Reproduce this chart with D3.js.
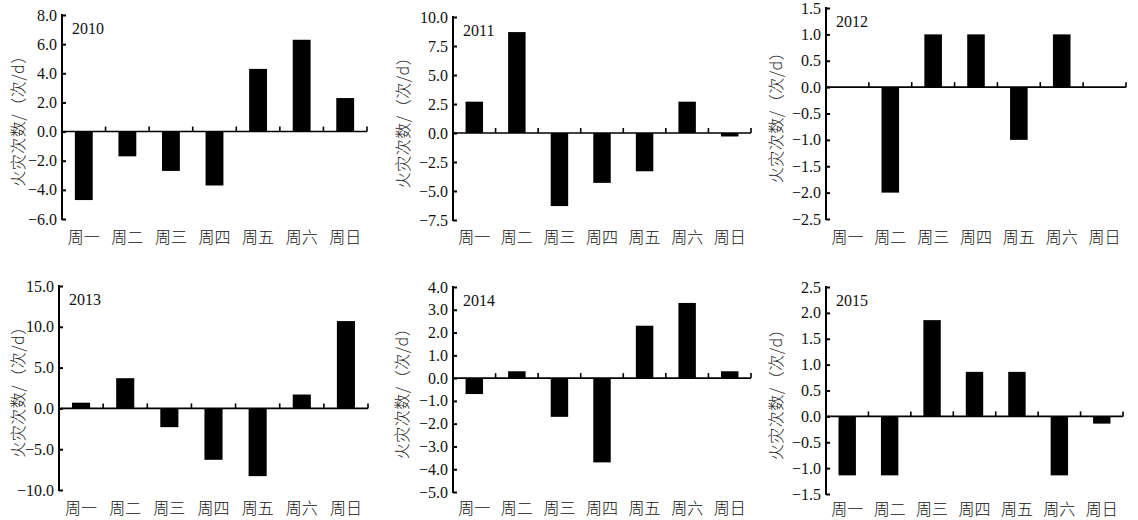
<!DOCTYPE html>
<html>
<head>
<meta charset="utf-8">
<script src="https://cdn.jsdelivr.net/npm/d3@7"></script>
<style>
  body { margin: 0; background: #fff; }
  svg { display: block; }
</style>
</head>
<body>
<svg width="1138" height="520"></svg>
<script>
// 数据
const days = ["周一", "周二", "周三", "周四", "周五", "周六", "周日"];
const years = ["2010", "2011", "2012", "2013", "2014", "2015"];
const v2010 = [-4.7, -1.7, -2.7, -3.7, 4.3, 6.3, 2.3];
const v2011 = [2.7, 8.7, -6.3, -4.3, -3.3, 2.7, -0.3];
const v2012 = [0, -2, 1, 1, -1, 1, 0];
const v2013 = [0.7, 3.7, -2.3, -6.3, -8.3, 1.7, 10.7];
const v2014 = [-0.7, 0.3, -1.7, -3.7, 2.3, 3.3, 0.3];
const v2015 = [-1.14, -1.14, 1.86, 0.86, 0.86, -1.14, -0.14];
const t2010 = [-6, -4, -2, 0, 2, 4, 6, 8];
const t2011 = [-7.5, -5, -2.5, 0, 2.5, 5, 7.5, 10];
const t2012 = [-2.5, -2, -1.5, -1, -0.5, 0, 0.5, 1, 1.5];
const t2013 = [-10, -5, 0, 5, 10, 15];
const t2014 = [-5, -4, -3, -2, -1, 0, 1, 2, 3, 4];
const t2015 = [-1.5, -1, -0.5, 0, 0.5, 1, 1.5, 2, 2.5];
const yLabel = "火灾次数/（次/d）";

const seriesList = [v2010, v2011, v2012, v2013, v2014, v2015];
const tickList = [t2010, t2011, t2012, t2013, t2014, t2015];

// 每个小图的位置：左、右、上、下、横轴文字y、纵轴标题x
const frames = [
    { l: 62, r: 367, t: 15, b: 219, ly: 237, tx: 18 },
    { l: 453, r: 751, t: 17, b: 220, ly: 237, tx: 403 },
    { l: 826, r: 1126, t: 8, b: 219, ly: 237, tx: 776 },
    { l: 59, r: 368, t: 286, b: 490, ly: 508, tx: 18 },
    { l: 453, r: 751, t: 287, b: 492, ly: 508, tx: 402 },
    { l: 826, r: 1123, t: 287, b: 494, ly: 509, tx: 776 }
];

const serif = "'Liberation Serif', 'Times New Roman', serif";
const cjk = "'Noto Sans CJK SC', sans-serif";

const svg = d3.select("svg");
svg.append("rect").attr("width", 1138).attr("height", 520).attr("fill", "#fff");

const fmt = d3.format(".1f");

frames.forEach((f, i) => {
    const vals = seriesList[i];
    const ticks = tickList[i];
    const g = svg.append("g");

    const x = d3.scaleBand().domain(days).range([f.l, f.r]).padding(0);
    const y = d3.scaleLinear().domain(d3.extent(ticks)).range([f.b, f.t]);
    const bw = x.bandwidth() * 0.41;

    // 柱子
    g.selectAll(".bar")
        .data(vals)
        .enter()
        .append("rect")
        .attr("class", "bar")
        .attr("x", (d, j) => x(days[j]) + x.bandwidth() / 2 - bw / 2)
        .attr("y", d => y(Math.max(0, d)))
        .attr("width", bw)
        .attr("height", d => Math.abs(y(d) - y(0)))
        .attr("fill", "#000");

    // 纵轴（刻度朝内）
    const yAxis = d3.axisRight(y)
        .tickValues(ticks)
        .tickSize(4)
        .tickFormat("");
    const ya = g.append("g")
        .attr("transform", `translate(${f.l},0)`)
        .call(yAxis);
    ya.select(".domain").remove();
    ya.selectAll(".tick line").attr("stroke", "#000").attr("stroke-width", 2);
    g.append("line")
        .attr("x1", f.l).attr("x2", f.l)
        .attr("y1", y.range()[1] - 1).attr("y2", y.range()[0] + 1)
        .attr("stroke", "#000").attr("stroke-width", 2);

    g.selectAll(".ylab")
        .data(ticks)
        .enter()
        .append("text")
        .attr("class", "ylab")
        .attr("x", f.l - 5)
        .attr("y", d => y(d))
        .attr("dy", "0.35em")
        .attr("text-anchor", "end")
        .attr("font-family", serif)
        .attr("font-size", 16)
        .attr("fill", "#111")
        .text(d => fmt(d));

    // 零线及分类刻度（朝上）
    g.append("line")
        .attr("x1", f.l).attr("x2", f.r)
        .attr("y1", y(0)).attr("y2", y(0))
        .attr("stroke", "#000").attr("stroke-width", 1.6);
    g.selectAll(".ctick")
        .data(days)
        .enter()
        .append("line")
        .attr("class", "ctick")
        .attr("x1", d => x(d) + x.bandwidth())
        .attr("x2", d => x(d) + x.bandwidth())
        .attr("y1", y(0))
        .attr("y2", y(0) - 5)
        .attr("stroke", "#000").attr("stroke-width", 1.6);

    // 横轴文字
    g.selectAll(".xlab")
        .data(days)
        .enter()
        .append("text")
        .attr("class", "xlab")
        .attr("x", d => x(d) + x.bandwidth() / 2)
        .attr("y", f.ly)
        .attr("dy", "0.35em")
        .attr("text-anchor", "middle")
        .attr("font-family", cjk)
        .attr("font-size", 16)
        .attr("font-weight", 300)
        .attr("fill", "#111")
        .text(d => d);

    // 年份
    g.append("text")
        .attr("x", f.l + 10)
        .attr("y", f.t + 19)
        .attr("font-family", serif)
        .attr("font-size", 16)
        .attr("fill", "#111")
        .text(years[i]);

    // 纵轴标题
    g.append("text")
        .attr("transform", `translate(${f.tx},${(f.t + f.b) / 2}) rotate(-90)`)
        .attr("dy", "0.35em")
        .attr("text-anchor", "middle")
        .attr("font-family", cjk)
        .attr("font-size", 16)
        .attr("font-weight", 300)
        .attr("letter-spacing", 0.5)
        .attr("fill", "#222")
        .text(yLabel);
});
</script>
</body>
</html>
